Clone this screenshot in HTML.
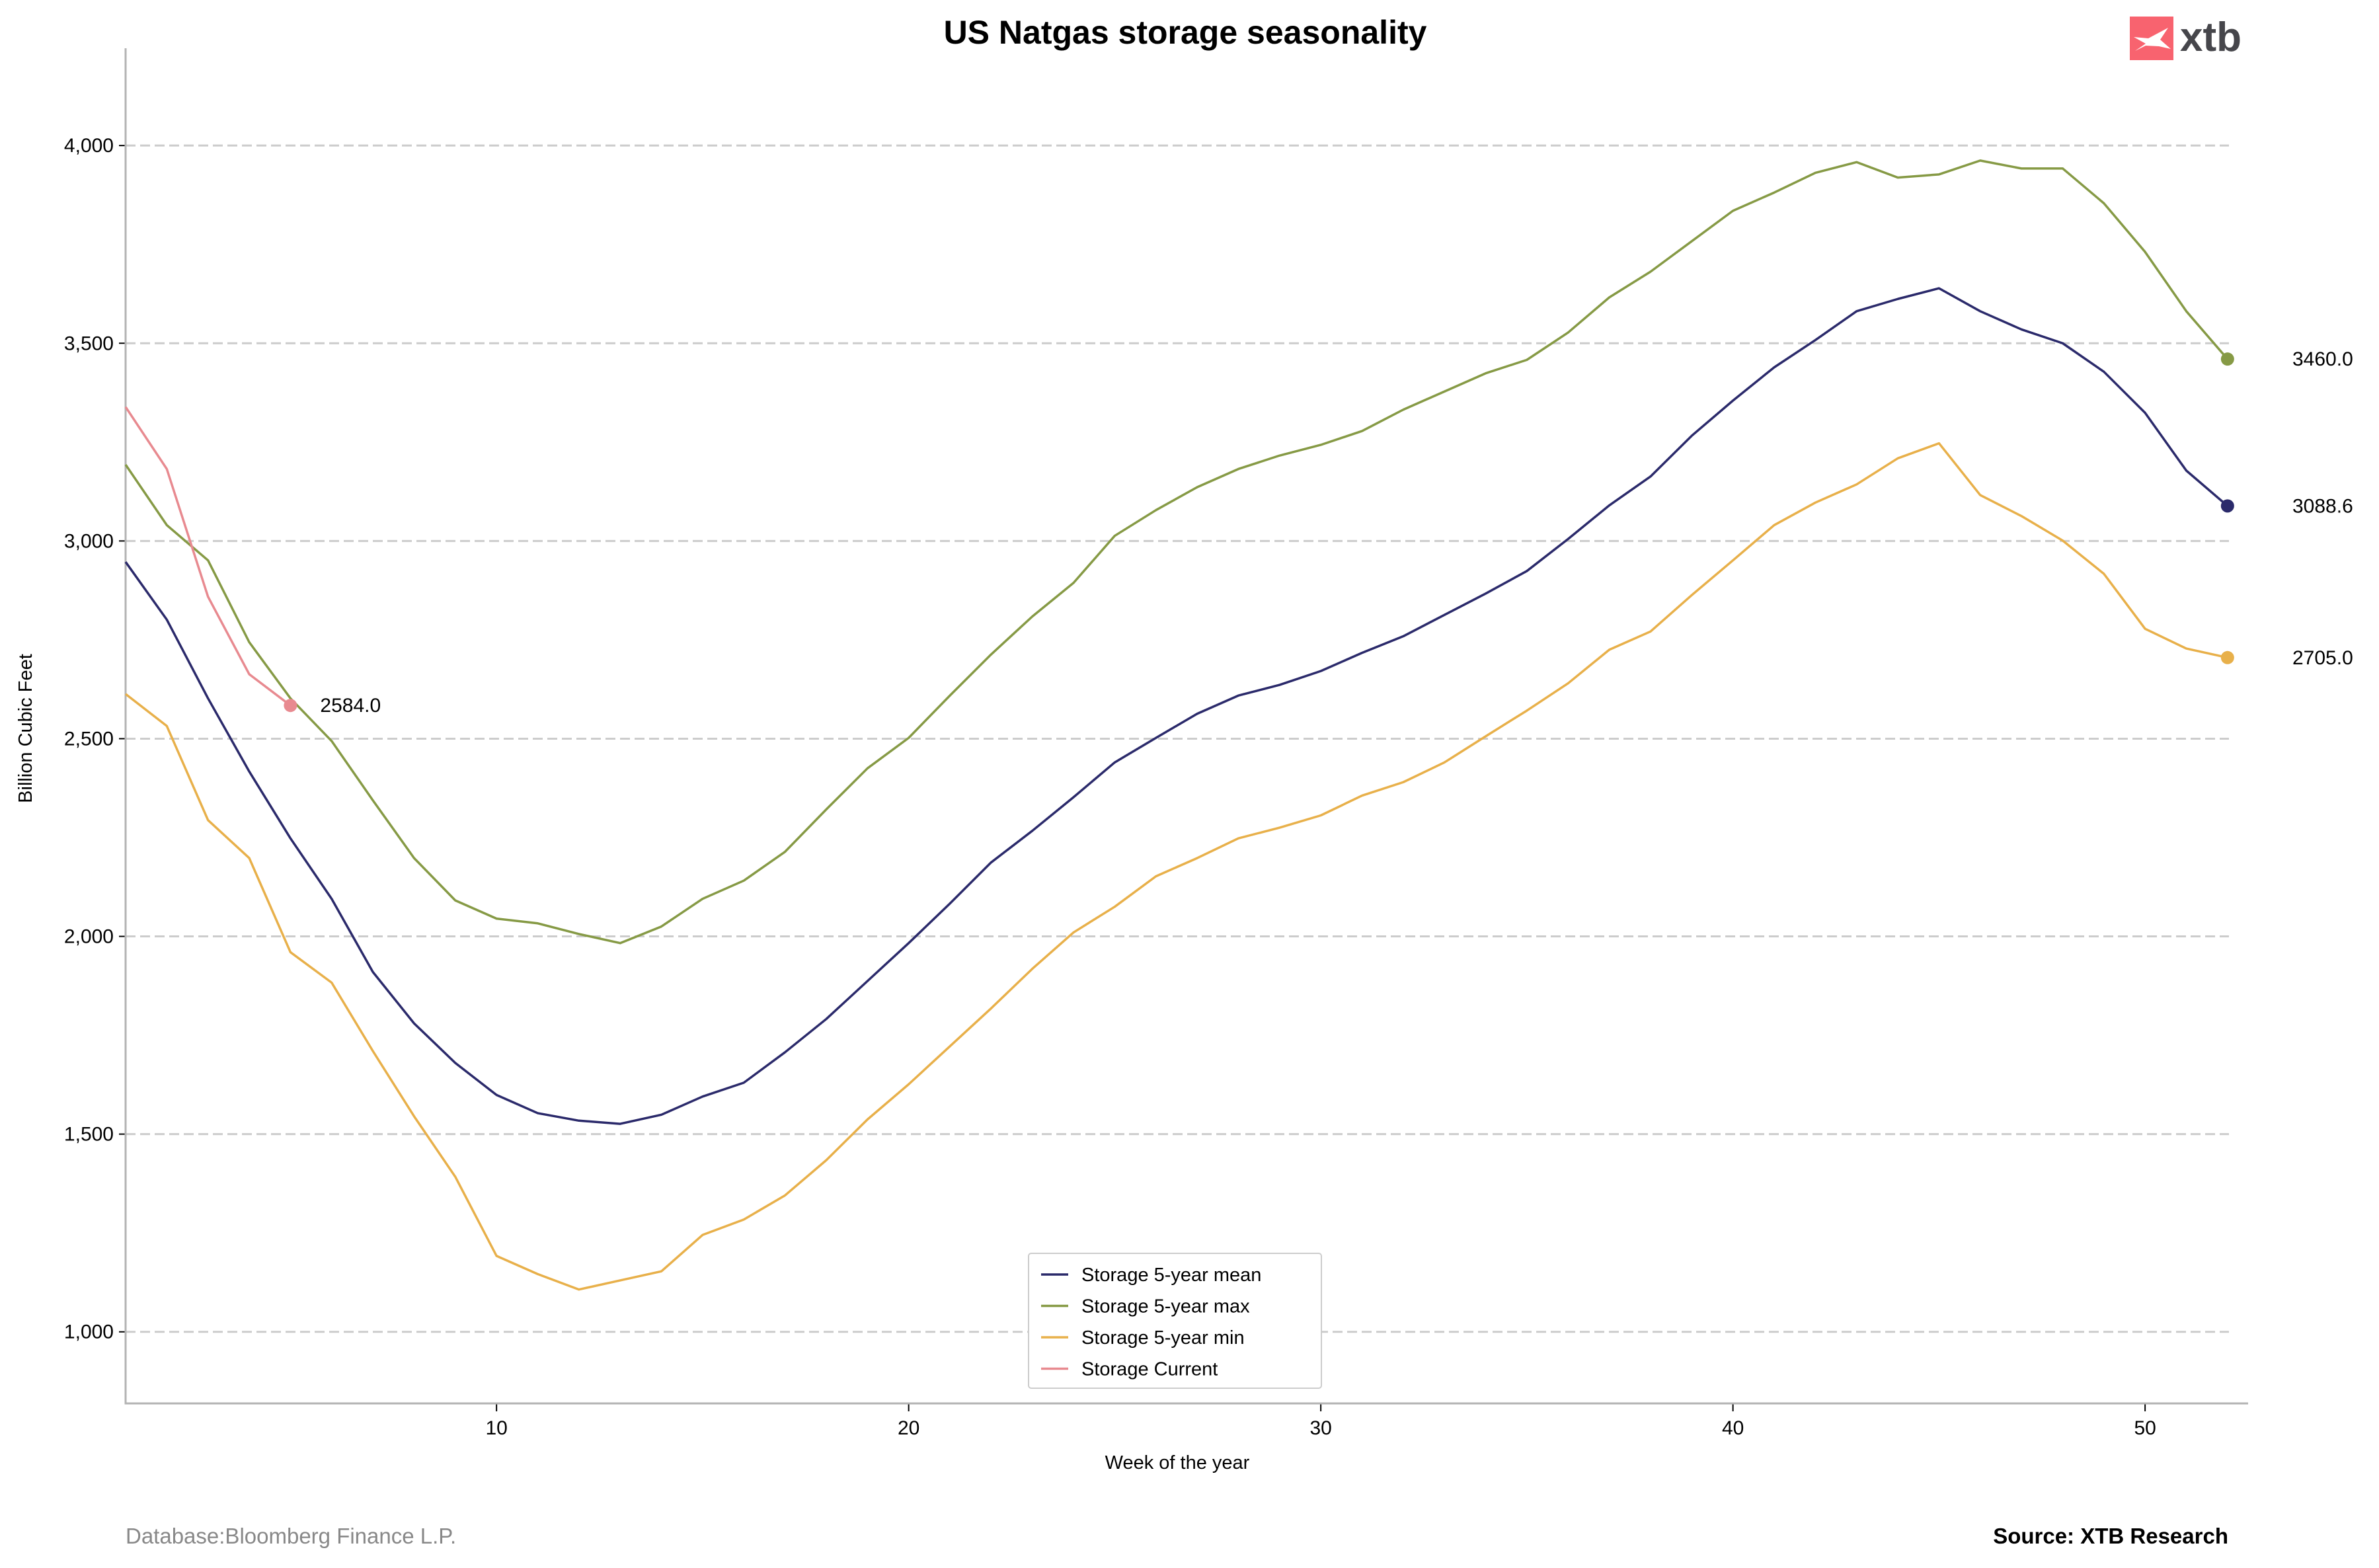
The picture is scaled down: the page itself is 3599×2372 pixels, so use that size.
<!DOCTYPE html>
<html><head><meta charset="utf-8"><style>
html,body{margin:0;padding:0;background:#fff;}
svg{display:block;font-family:"Liberation Sans",Arial,sans-serif;}
</style></head><body>
<svg id="chart" width="3599" height="2372" viewBox="0 0 3599 2372" xmlns="http://www.w3.org/2000/svg">
<rect width="3599" height="2372" fill="#fff"/>
<text x="1793" y="66" text-anchor="middle" font-size="50" font-weight="bold">US Natgas storage seasonality</text>
<g>
<rect x="3222" y="25" width="66" height="66" fill="#f8636f"/>
<path d="M3230 77 L3246 66 L3228 56 L3250 58 L3280 42 L3268 60 L3284 74 L3266 70 L3246 69 Z" fill="#fff"/>
<text x="3298" y="77" font-size="62" font-weight="bold" fill="#46464b">xtb</text>
</g>
<g id="grid"></g>
<g id="axes"></g>
<g id="series"></g>
<text transform="translate(48,1102) rotate(-90)" text-anchor="middle" font-size="29">Billion Cubic Feet</text>
<text x="1781" y="2222" text-anchor="middle" font-size="29">Week of the year</text>
<text x="190" y="2335" font-size="33" fill="#888">Database:Bloomberg Finance L.P.</text>
<text x="3371" y="2335" text-anchor="end" font-size="33" font-weight="bold">Source: XTB Research</text>
<g>
<rect x="1556" y="1896" width="443" height="204" fill="#fff" stroke="#ccc" stroke-width="2" rx="4"/>
<g id="legend-items"></g>
</g>
</svg>
<script>
const weeks = Array.from({length:52},(_,i)=>i+1);
const meanVals = [2947,2801,2602,2417,2248,2095,1910,1780,1680,1599,1553,1534,1526,1549,1595,1630,1707,1791,1887,1983,2083,2187,2267,2352,2440,2502,2563,2609,2636,2671,2717,2759,2813,2867,2924,3005,3090,3163,3266,3355,3439,3508,3581,3612,3639,3581,3535,3500,3428,3324,3178,3088.6];
const maxVals = [3193,3040,2951,2744,2602,2494,2344,2198,2091,2045,2033,2006,1983,2025,2095,2141,2214,2321,2425,2502,2609,2713,2809,2894,3013,3078,3136,3182,3216,3243,3278,3332,3378,3424,3458,3527,3616,3681,3758,3835,3881,3931,3958,3919,3927,3962,3942,3942,3854,3731,3581,3460];
const minVals = [2613,2532,2294,2198,1960,1883,1710,1545,1392,1192,1146,1107,1130,1153,1245,1284,1345,1434,1537,1626,1722,1818,1918,2010,2075,2152,2198,2248,2275,2306,2356,2390,2440,2506,2571,2640,2725,2771,2863,2951,3040,3097,3143,3209,3247,3116,3063,3001,2917,2778,2728,2705];
const currentVals = [3339,3182,2859,2663,2584];
const yTicks = [1000,1500,2000,2500,3000,3500,4000];
const xTicks = [10,20,30,40,50];

const L=190,R=3401,T=73,B=2123;
const xMin=1,xMax=52.5,yMin=819,yMax=4246;
const X=w=>L+(w-xMin)/(xMax-xMin)*(R-L);
const Y=v=>B-(v-yMin)/(yMax-yMin)*(B-T);
const NS="http://www.w3.org/2000/svg";
function mk(tag,attrs,parent){const e=document.createElementNS(NS,tag);for(const k in attrs)e.setAttribute(k,attrs[k]);parent.appendChild(e);return e;}
const grid=document.getElementById('grid'),axes=document.getElementById('axes'),ser=document.getElementById('series');
const fmt=v=>v.toLocaleString('en-US');
yTicks.forEach(v=>{
  const g=mk('line',{x1:L,x2:3372,y1:Y(v),y2:Y(v),stroke:'#cccccc','stroke-width':3,'stroke-dasharray':'15 7'},grid);
  
  
  mk('line',{x1:L-10,x2:L,y1:Y(v),y2:Y(v),stroke:'#000','stroke-width':2},axes);
  const t=mk('text',{x:L-18,y:Y(v)+10,'text-anchor':'end','font-size':30},axes);
  t.textContent=fmt(v);
  
  
});
xTicks.forEach(v=>{
  mk('line',{x1:X(v),x2:X(v),y1:B,y2:B+12,stroke:'#000','stroke-width':2},axes);
  const t=mk('text',{x:X(v),y:B+47,'text-anchor':'middle','font-size':30},axes);
  t.textContent=v;
  
  
});
const sp=mk('path',{d:`M${L} ${T} L${L} ${B} L${R} ${B}`,fill:'none',stroke:'#b3b3b3','stroke-width':3},axes);



const series=[
 {name:'Storage 5-year mean',vals:meanVals,color:'#2b2a6b',key:'mean'},
 {name:'Storage 5-year max',vals:maxVals,color:'#869a45',key:'max'},
 {name:'Storage 5-year min',vals:minVals,color:'#e8b04a',key:'min'},
 {name:'Storage Current',vals:currentVals,color:'#e88a90',key:'current'}
];
series.forEach(s=>{
  const d=s.vals.map((v,i)=>(i?'L':'M')+X(weeks[i])+' '+Y(v)).join(' ');
  const p=mk('path',{d:d,fill:'none',stroke:s.color,'stroke-width':3.5,'stroke-linejoin':'round'},ser);
  
  
  const n=s.vals.length-1,last=s.vals[n];
  const c=mk('circle',{cx:X(weeks[n]),cy:Y(last),r:10,fill:s.color},ser);
  
  
  const lx=s.key==='current'?X(weeks[n])+45:3468;
  const t=mk('text',{x:lx,y:Y(last)+10,'font-size':30},ser);
  t.textContent=last.toFixed(1);
  
  
});
const li=document.getElementById('legend-items');
series.forEach((s,i)=>{
  const y=1928+i*47.5;
  mk('line',{x1:1575,x2:1616,y1:y,y2:y,stroke:s.color,'stroke-width':3.5},li);
  const t=mk('text',{x:1636,y:y+10,'font-size':29},li);
  t.textContent=s.name;
  
  
});
</script>
</body></html>
